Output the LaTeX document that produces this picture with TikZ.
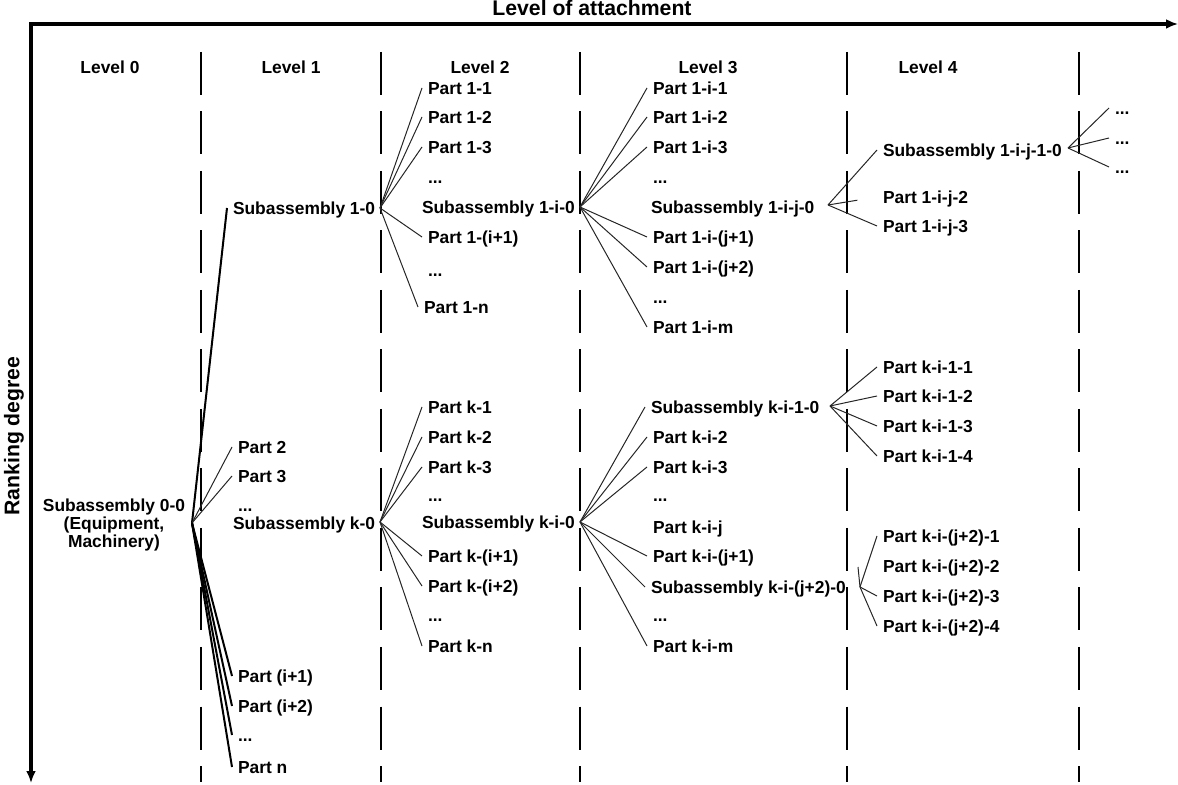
\documentclass[tikz,border=0pt]{standalone}
\usepackage{fontspec}
\setmainfont{Liberation Sans}
\usetikzlibrary{arrows.meta,calc}
\begin{document}
\begin{tikzpicture}[x=0.5pt,y=-0.5pt,
  lbl/.style={anchor=west, inner sep=0pt, outer xsep=3pt, text height=6.2pt, text depth=0pt,
    font=\bfseries\fontsize{8.7}{10.4}\selectfont},
  head/.style={inner sep=0pt, font=\bfseries\fontsize{8.7}{10.4}\selectfont},
  title/.style={inner sep=0pt, font=\bfseries\fontsize{10.6}{12.7}\selectfont},
  conn/.style={line width=0.5pt, black!85},
  boldconn/.style={line width=1pt, black},
  divider/.style={line width=0.9pt, dash pattern=on 21.5pt off 8.25pt},
  axis/.style={line width=2pt, {Latex[length=6pt,width=5pt]}-{Latex[length=6pt,width=5pt]}}]
\useasboundingbox (0,0) rectangle (1178,785);

% axes
\coordinate (O) at (31,24);
\coordinate (xend) at (1178,24);
\coordinate (yend) at (31,783);
\draw[axis] (yend) -- (O) -- (xend);
\node[title] (xlab) at (592,8) {Level of attachment};
\node[title, rotate=90] (ylab) at (14,436) {Ranking degree};

% level separators
\foreach \x in {201,381,580,847,1079}
  \draw[divider] (\x,52) -- (\x,782);

% level headings
\node[head] (h0) at (110,67) {Level 0};
\node[head] (h1) at (291,67) {Level 1};
\node[head] (h2) at (480,67) {Level 2};
\node[head] (h3) at (708,67) {Level 3};
\node[head] (h4) at (928,67) {Level 4};

% level 0
\node[head, align=center, font=\bfseries\fontsize{8.7}{9}\selectfont] (s00) at (114,525)
  {Subassembly 0-0\\(Equipment,\\Machinery)};
\coordinate (a00) at (192,523);

% level 1
\node[lbl] (s10) at (227,208) {Subassembly 1-0};
\node[lbl] (p2)  at (232,447) {Part 2};
\node[lbl] (p3)  at (232,476) {Part 3};
\node[lbl] (d1a) at (232,505) {...};
\node[lbl] (sk0) at (227,523) {Subassembly k-0};
\node[lbl] (pi1) at (232,676) {Part (i+1)};
\node[lbl] (pi2) at (232,706) {Part (i+2)};
\node[lbl] (d1b) at (232,735) {...};
\node[lbl] (pn)  at (232,767) {Part n};
\coordinate (a10) at (380,208);
\coordinate (ak0) at (380,522);

\draw[boldconn] (a00) -- (s10.west);
\draw[conn] (a00) -- (p2.west);
\draw[conn] (a00) -- (p3.west);
\draw[boldconn] (a00) -- (pi1.west);
\draw[boldconn] (a00) -- (pi2.west);
\draw[boldconn] (a00) -- (d1b.west);
\draw[boldconn] (a00) -- (pn.west);

% level 2, upper branch
\node[lbl] (p11)  at (422,88)  {Part 1-1};
\node[lbl] (p12)  at (422,117) {Part 1-2};
\node[lbl] (p13)  at (422,147) {Part 1-3};
\node[lbl] (d2a)  at (422,177) {...};
\node[lbl] (s1i0) at (416,207) {Subassembly 1-i-0};
\node[lbl] (p1i1) at (422,237) {Part 1-(i+1)};
\node[lbl] (d2b)  at (422,270) {...};
\node[lbl] (p1n)  at (418,307) {Part 1-n};
\coordinate (a1i0) at (580,207);

\foreach \t in {p11,p12,p13,p1i1,p1n}
  \draw[conn] (a10) -- (\t.west);

% level 2, lower branch
\node[lbl] (pk1)  at (422,407) {Part k-1};
\node[lbl] (pk2)  at (422,437) {Part k-2};
\node[lbl] (pk3)  at (422,467) {Part k-3};
\node[lbl] (d2c)  at (422,495) {...};
\node[lbl] (ski0) at (416,522) {Subassembly k-i-0};
\node[lbl] (pki1) at (422,556) {Part k-(i+1)};
\node[lbl] (pki2) at (422,586) {Part k-(i+2)};
\node[lbl] (d2d)  at (422,615) {...};
\node[lbl] (pkn)  at (422,646) {Part k-n};
\coordinate (aki0) at (580,522);

\foreach \t in {pk1,pk2,pk3,pki1,pki2,pkn}
  \draw[conn] (ak0) -- (\t.west);

% level 3, upper branch
\node[lbl] (p1i1x) at (647,88)  {Part 1-i-1};
\node[lbl] (p1i2x) at (647,117) {Part 1-i-2};
\node[lbl] (p1i3x) at (647,147) {Part 1-i-3};
\node[lbl] (d3a)   at (647,177) {...};
\node[lbl] (s1ij0) at (645,207) {Subassembly 1-i-j-0};
\node[lbl] (p1ij1) at (647,237) {Part 1-i-(j+1)};
\node[lbl] (p1ij2) at (647,267) {Part 1-i-(j+2)};
\node[lbl] (d3b)   at (647,297) {...};
\node[lbl] (p1im)  at (647,327) {Part 1-i-m};
\coordinate (a1ij0) at (828,205);

\foreach \t in {p1i1x,p1i2x,p1i3x,p1ij1,p1ij2,p1im}
  \draw[conn] (a1i0) -- (\t.west);

% level 3, lower branch
\node[lbl] (ski10)  at (645,407) {Subassembly k-i-1-0};
\node[lbl] (pki2x)  at (647,437) {Part k-i-2};
\node[lbl] (pki3x)  at (647,467) {Part k-i-3};
\node[lbl] (d3c)    at (647,495) {...};
\node[lbl] (pkij)   at (647,527) {Part k-i-j};
\node[lbl] (pkij1)  at (647,556) {Part k-i-(j+1)};
\node[lbl] (skij20) at (645,587) {Subassembly k-i-(j+2)-0};
\node[lbl] (d3d)    at (647,615) {...};
\node[lbl] (pkim)   at (647,646) {Part k-i-m};
\coordinate (aki10)  at (830,406);
\coordinate (akij20) at (860,587);

\foreach \t in {ski10,pki2x,pki3x,pkij1,skij20,pkim}
  \draw[conn] (aki0) -- (\t.west);

% level 4, upper branch
\node[lbl] (s1ij10) at (877,150) {Subassembly 1-i-j-1-0};
\node[lbl] (p1ij2y) at (877,197) {Part 1-i-j-2};
\node[lbl] (p1ij3y) at (877,226) {Part 1-i-j-3};
\coordinate (a1ij10) at (1068,148);

\draw[conn] (a1ij0) -- (s1ij10.west);
\draw[conn] (a1ij0) -- ($(a1ij0)!0.6!(p1ij2y.west)$);
\draw[conn] (a1ij0) -- (p1ij3y.west);

% level 4, lower branches
\node[lbl] (pki11) at (877,367) {Part k-i-1-1};
\node[lbl] (pki12) at (877,396) {Part k-i-1-2};
\node[lbl] (pki13) at (877,426) {Part k-i-1-3};
\node[lbl] (pki14) at (877,456) {Part k-i-1-4};
\foreach \t in {pki11,pki12,pki13,pki14}
  \draw[conn] (aki10) -- (\t.west);

\node[lbl] (pkj1) at (877,536) {Part k-i-(j+2)-1};
\node[lbl] (pkj2) at (877,566) {Part k-i-(j+2)-2};
\node[lbl] (pkj3) at (877,596) {Part k-i-(j+2)-3};
\node[lbl] (pkj4) at (877,626) {Part k-i-(j+2)-4};
\coordinate (stub) at (858,567);
\draw[conn] (akij20) -- (pkj1.west);
\draw[conn] (akij20) -- (stub);
\draw[conn] (akij20) -- (pkj3.west);
\draw[conn] (akij20) -- (pkj4.west);

% level 5
\node[lbl] (d5a) at (1109,108) {...};
\node[lbl] (d5b) at (1109,138) {...};
\node[lbl] (d5c) at (1109,167) {...};
\foreach \t in {d5a,d5b,d5c}
  \draw[conn] (a1ij10) -- (\t.west);

\end{tikzpicture}
\end{document}
